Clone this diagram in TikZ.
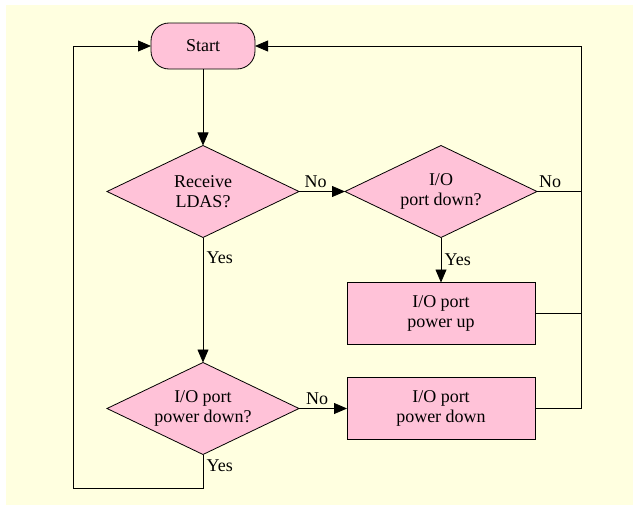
\documentclass[tikz,border=0pt]{standalone}
\usepackage{fontspec}
\setmainfont{Liberation Serif}
\usetikzlibrary{shapes.geometric,arrows.meta}

\definecolor{bgyellow}{RGB}{255,255,224}
\definecolor{boxpink}{RGB}{255,194,216}

\tikzset{
  every node/.style={font=\fontsize{18}{20}\selectfont},
  startbox/.style={draw, fill=boxpink, rounded corners=18pt, minimum width=104pt, minimum height=46pt, outer sep=0pt},
  decision/.style={draw, fill=boxpink, diamond, aspect=2, inner sep=0pt, minimum width=192pt, minimum height=92pt, align=center, outer sep=0pt},
  process/.style={draw, fill=boxpink, minimum width=188pt, minimum height=62pt, align=center, outer sep=0pt},
  >={Triangle[length=13pt,width=11pt]}
}

\begin{document}
\begin{tikzpicture}[x=1pt, y=-1pt, line width=0.8pt]

\fill[bgyellow] (6,5) rectangle (633,505);
\useasboundingbox (0,0) rectangle (633,506);

\node[startbox] at (203,46) (start) {Start};
\node[decision] at (203,191.5) (ldas) {Receive\\LDAS?};
\node[decision] at (441,191.5) (iodown) {I/O\\port down?};
\node[process] at (441,313.5) (pwrup) {I/O port\\power up};
\node[decision] at (203,408.5) (pdq) {I/O port\\power down?};
\node[process] at (441,408.5) (pwrdown) {I/O port\\power down};

\coordinate (rtop) at (581,46);
\coordinate (lbot) at (73,488);

\draw[->] (start) -- (ldas);
\draw[->] (ldas.east) -- (iodown.west) node[pos=0.36, above]{No};
\draw[->] (iodown.south) -- (pwrup.north) node[midway, right]{Yes};
\draw[->] (ldas.south) -- (pdq.north) node[pos=0.16, right]{Yes};
\draw[->] (pdq.east) -- (pwrdown.west) node[pos=0.38, above]{No};

\draw (iodown.east) -- (iodown.east -| rtop) node[pos=0.3, above]{No};
\draw (pwrup.east) -- (pwrup.east -| rtop);
\draw[->] (pwrdown.east) -| (rtop) -- (start.east);

\draw[->] (pdq.south) -- (pdq.south |- lbot) node[pos=0.33, right]{Yes} -- (lbot) |- (start.west);

\end{tikzpicture}
\end{document}
